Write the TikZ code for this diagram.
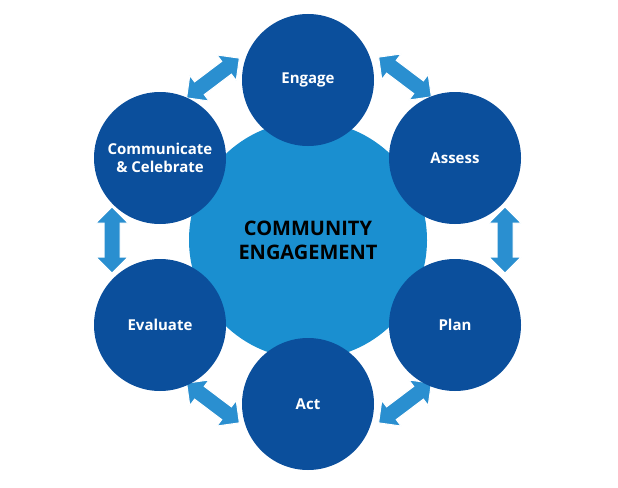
\documentclass[tikz,border=0pt]{standalone}
\usepackage{fontspec}
\setmainfont{Open Sans}
\usetikzlibrary{shapes.arrows}
\definecolor{dark}{HTML}{0B4F9C}
\definecolor{mid}{HTML}{1A8FD0}
\definecolor{arr}{HTML}{2A8FD0}
\tikzset{
 outer/.style={circle,fill=dark,minimum size=132pt,inner sep=0pt,text=white,font=\bfseries\fontsize{15}{18}\selectfont,align=center},
 dbl/.style={double arrow,fill=arr,minimum height=66pt,double arrow head extend=8pt,inner sep=0pt,draw=white,line width=1pt}
}
\newcommand{\shaft}{\rule{0pt}{15pt}}
\begin{document}
\begin{tikzpicture}[x=1pt,y=-1pt]
\useasboundingbox (0,0) rectangle (618,487);
\node[circle,fill=mid,minimum size=238pt] (c) at (308,240) {};
\node[font=\bfseries\fontsize{20}{24}\selectfont,align=center] (ct) at (308,240) {COMMUNITY\\ENGAGEMENT};
\node[dbl,rotate=37] (a1) at (213,78) {\shaft};
\node[dbl,rotate=-37] (a2) at (405,77) {\shaft};
\node[dbl,rotate=90] (a3) at (505,240) {\shaft};
\node[dbl,rotate=37] (a4) at (405,403) {\shaft};
\node[dbl,rotate=-37] (a5) at (213,403) {\shaft};
\node[dbl,rotate=90] (a6) at (112,240) {\shaft};
\node[outer] (e) at (308,80) {Engage};
\node[outer] (as) at (455,158) {Assess};
\node[outer] (p) at (455,325) {Plan};
\node[outer] (ac) at (308,404) {Act};
\node[outer] (ev) at (160,325) {Evaluate};
\node[outer] (cc) at (160,158) {Communicate\\\& Celebrate};
\end{tikzpicture}
\end{document}
